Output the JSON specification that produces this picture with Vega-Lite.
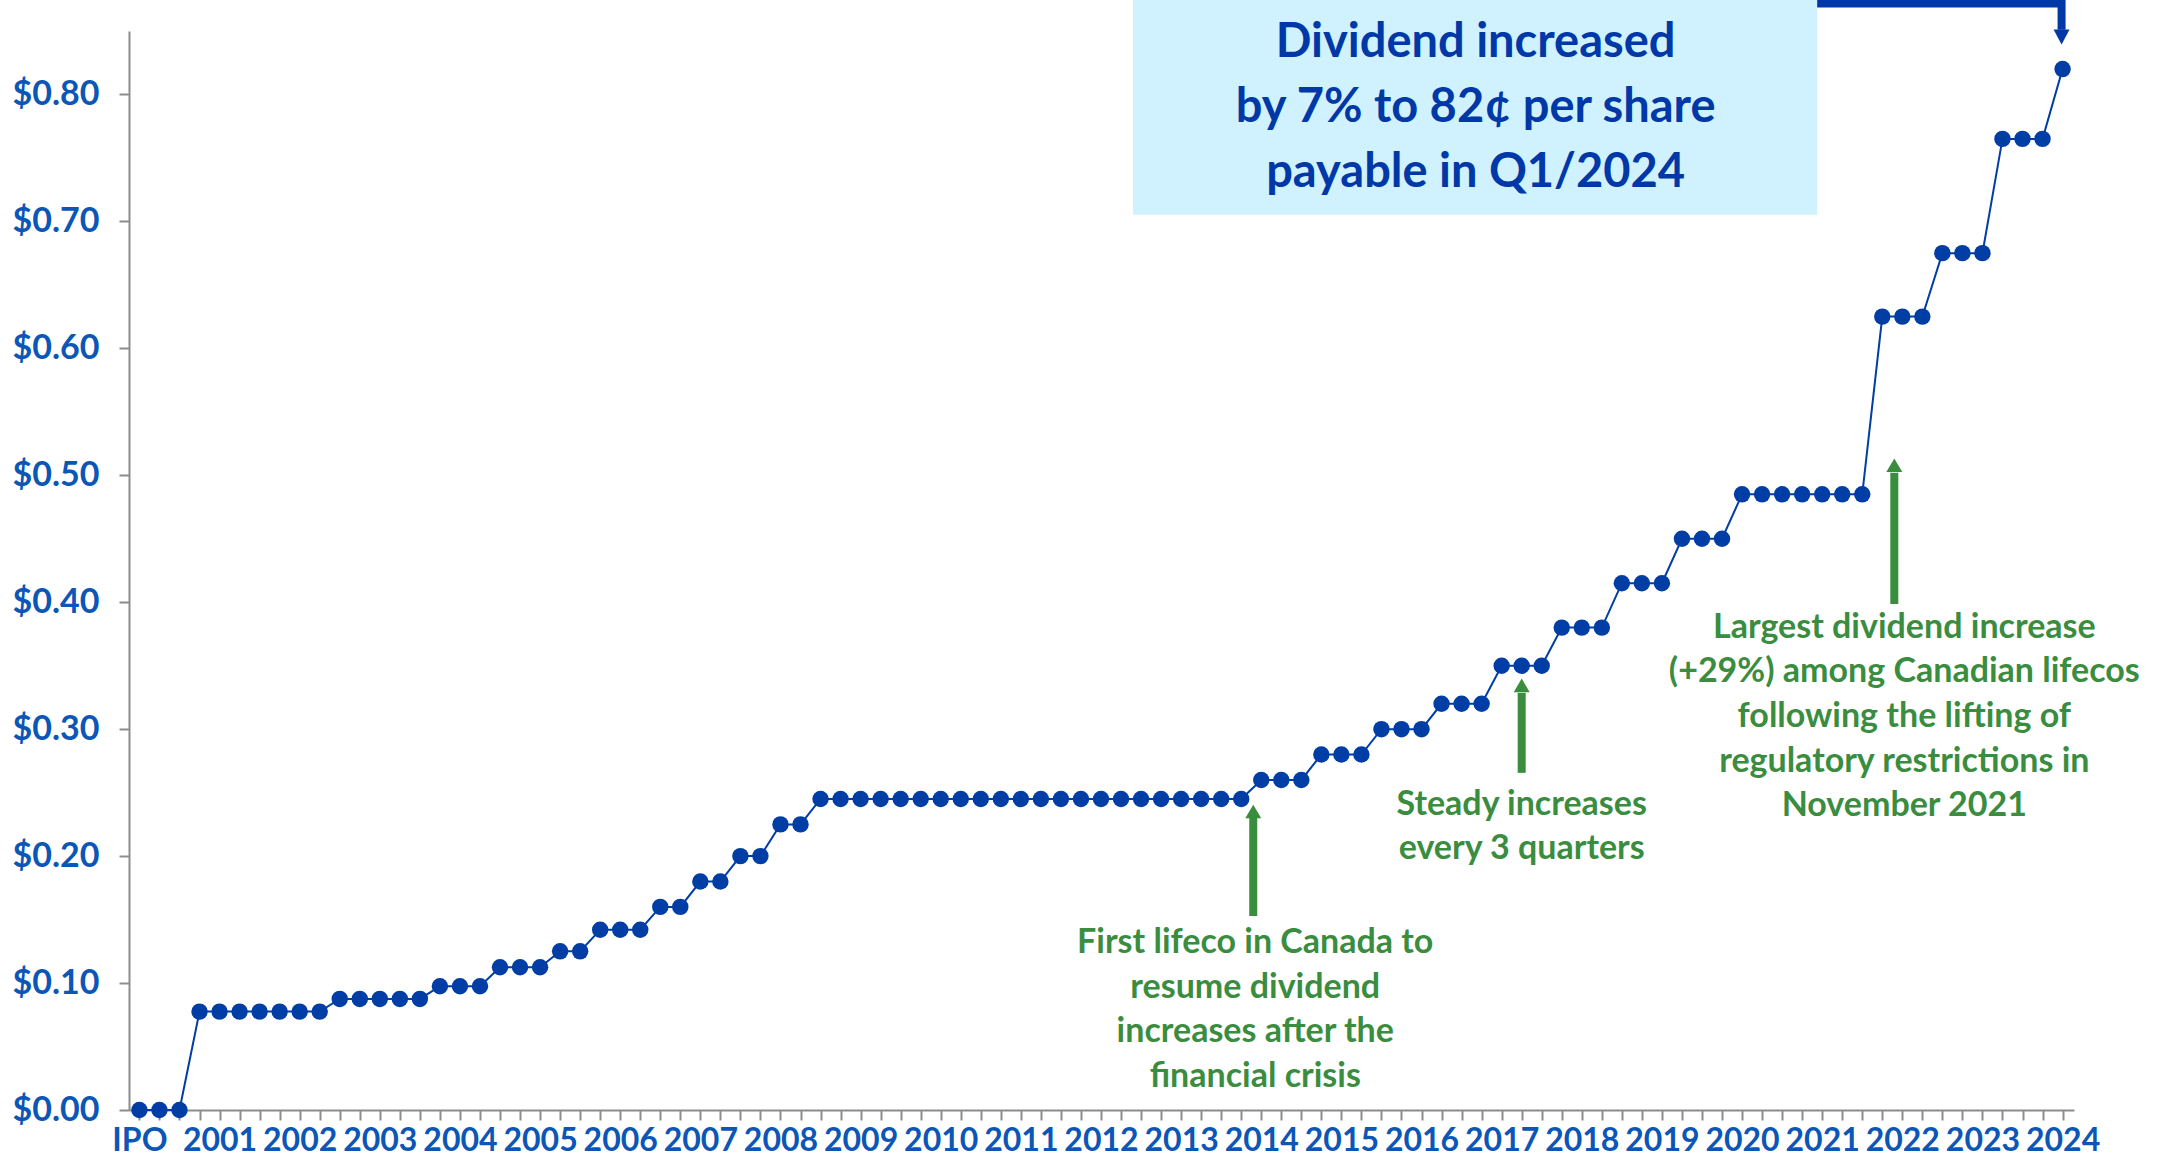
{
  "$schema": "https://vega.github.io/schema/vega-lite/v6.json",
  "width": 1945,
  "height": 1079,
  "autosize": "none",
  "padding": {"left": 129, "top": 31, "right": 103, "bottom": 52},
  "background": "white",
  "config": {"view": {"stroke": null}, "font": "Lato"},
  "datasets": {
    "series": [
      {"i":0,"v":0},{"i":1,"v":0},{"i":2,"v":0},
      {"i":3,"v":0.0775},{"i":4,"v":0.0775},{"i":5,"v":0.0775},{"i":6,"v":0.0775},{"i":7,"v":0.0775},{"i":8,"v":0.0775},{"i":9,"v":0.0775},
      {"i":10,"v":0.0875},{"i":11,"v":0.0875},{"i":12,"v":0.0875},{"i":13,"v":0.0875},{"i":14,"v":0.0875},
      {"i":15,"v":0.0975},{"i":16,"v":0.0975},{"i":17,"v":0.0975},
      {"i":18,"v":0.1125},{"i":19,"v":0.1125},{"i":20,"v":0.1125},
      {"i":21,"v":0.125},{"i":22,"v":0.125},
      {"i":23,"v":0.142},{"i":24,"v":0.142},{"i":25,"v":0.142},
      {"i":26,"v":0.16},{"i":27,"v":0.16},
      {"i":28,"v":0.18},{"i":29,"v":0.18},
      {"i":30,"v":0.20},{"i":31,"v":0.20},
      {"i":32,"v":0.225},{"i":33,"v":0.225},
      {"i":34,"v":0.245},{"i":35,"v":0.245},{"i":36,"v":0.245},{"i":37,"v":0.245},{"i":38,"v":0.245},{"i":39,"v":0.245},{"i":40,"v":0.245},{"i":41,"v":0.245},{"i":42,"v":0.245},{"i":43,"v":0.245},{"i":44,"v":0.245},{"i":45,"v":0.245},{"i":46,"v":0.245},{"i":47,"v":0.245},{"i":48,"v":0.245},{"i":49,"v":0.245},{"i":50,"v":0.245},{"i":51,"v":0.245},{"i":52,"v":0.245},{"i":53,"v":0.245},{"i":54,"v":0.245},{"i":55,"v":0.245},
      {"i":56,"v":0.26},{"i":57,"v":0.26},{"i":58,"v":0.26},
      {"i":59,"v":0.28},{"i":60,"v":0.28},{"i":61,"v":0.28},
      {"i":62,"v":0.30},{"i":63,"v":0.30},{"i":64,"v":0.30},
      {"i":65,"v":0.32},{"i":66,"v":0.32},{"i":67,"v":0.32},
      {"i":68,"v":0.35},{"i":69,"v":0.35},{"i":70,"v":0.35},
      {"i":71,"v":0.38},{"i":72,"v":0.38},{"i":73,"v":0.38},
      {"i":74,"v":0.415},{"i":75,"v":0.415},{"i":76,"v":0.415},
      {"i":77,"v":0.45},{"i":78,"v":0.45},{"i":79,"v":0.45},
      {"i":80,"v":0.485},{"i":81,"v":0.485},{"i":82,"v":0.485},{"i":83,"v":0.485},{"i":84,"v":0.485},{"i":85,"v":0.485},{"i":86,"v":0.485},
      {"i":87,"v":0.625},{"i":88,"v":0.625},{"i":89,"v":0.625},
      {"i":90,"v":0.675},{"i":91,"v":0.675},{"i":92,"v":0.675},
      {"i":93,"v":0.765},{"i":94,"v":0.765},{"i":95,"v":0.765},
      {"i":96,"v":0.82}
    ],
    "box": [{"x":49.6,"x2":83.75,"y":0.8747,"y2":0.7053}],
    "boxText": [{"x":66.7,"y":0.8298,"t":["Dividend increased","by 7% to 82¢ per share","payable in Q1/2024"]}],
    "blueArrow": [{"x":83.75,"y":0.8716,"o":1},{"x":95.95,"y":0.8716,"o":2},{"x":95.95,"y":0.851,"o":3}],
    "blueHead": [{"x":95.95,"y":0.8452}],
    "greenText": [
      {"x":55.7,"y":0.1237,"t":["First lifeco in Canada to","resume dividend","increases after the","financial crisis"]},
      {"x":69.0,"y":0.2325,"t":["Steady increases","every 3 quarters"]},
      {"x":88.1,"y":0.372,"t":["Largest dividend increase","(+29%) among Canadian lifecos","following the lifting of","regulatory restrictions in","November 2021"]}
    ],
    "greenShaft": [
      {"x":55.6,"y":0.2301,"y2":0.1529},
      {"x":69.0,"y":0.3286,"y2":0.2656},
      {"x":87.6,"y":0.502,"y2":0.3987}
    ],
    "greenHead": [
      {"x":55.6,"y":0.2352},
      {"x":69.0,"y":0.3345},
      {"x":87.6,"y":0.5079}
    ]
  },
  "layer": [
    {
      "data": {"name": "box"},
      "mark": {"type": "rect", "color": "#D0F1FE"},
      "encoding": {
        "x": {"field": "x", "type": "quantitative", "scale": {"domain": [-0.52, 96.57], "nice": false, "zero": false},
          "axis": {"title": null, "orient": "bottom", "tickCount": 97, "labelOverlap": false,
            "labelExpr": "datum.value == 0 ? 'IPO' : (datum.value % 4 == 0 ? '' + (2000 + datum.value / 4) : '')",
            "labelFont": "Lato", "labelFontWeight": "bold", "labelFontSize": 32, "labelColor": "#0B56B6",
            "labelPadding": 5, "labelBaseline": "top",
            "domainColor": "#8C8C8C", "domainWidth": 2, "tickColor": "#8C8C8C", "tickWidth": 2, "tickSize": 10, "grid": false}},
        "x2": {"field": "x2"},
        "y": {"field": "y", "type": "quantitative", "scale": {"domain": [0, 0.85], "nice": false, "zero": false},
          "axis": {"title": null, "values": [0, 0.1, 0.2, 0.3, 0.4, 0.5, 0.6, 0.7, 0.8], "format": "$.2f",
            "labelFont": "Lato", "labelFontWeight": "bold", "labelFontSize": 34, "labelColor": "#0B56B6",
            "labelPadding": 20, "domainColor": "#8C8C8C", "domainWidth": 2, "tickColor": "#8C8C8C", "tickWidth": 2, "tickSize": 10, "grid": false}},
        "y2": {"field": "y2"}
      }
    },
    {
      "data": {"name": "boxText"},
      "mark": {"type": "text", "font": "Lato", "fontWeight": "bold", "fontSize": 47, "lineHeight": 65, "align": "center", "baseline": "alphabetic", "color": "#0038A8"},
      "encoding": {
        "x": {"field": "x", "type": "quantitative"},
        "y": {"field": "y", "type": "quantitative"},
        "text": {"field": "t"}
      }
    },
    {
      "data": {"name": "blueArrow"},
      "mark": {"type": "line", "color": "#0038A8", "strokeWidth": 8, "strokeJoin": "miter", "strokeCap": "butt"},
      "encoding": {
        "x": {"field": "x", "type": "quantitative"},
        "y": {"field": "y", "type": "quantitative"},
        "order": {"field": "o", "type": "quantitative"}
      }
    },
    {
      "data": {"name": "blueHead"},
      "mark": {"type": "point", "shape": "M-1,-0.94L1,-0.94L0,0.94Z", "size": 256, "filled": true, "opacity": 1, "color": "#0038A8"},
      "encoding": {
        "x": {"field": "x", "type": "quantitative"},
        "y": {"field": "y", "type": "quantitative"}
      }
    },
    {
      "data": {"name": "greenShaft"},
      "mark": {"type": "rule", "color": "#388E3C", "strokeWidth": 8},
      "encoding": {
        "x": {"field": "x", "type": "quantitative"},
        "y": {"field": "y", "type": "quantitative"},
        "y2": {"field": "y2"}
      }
    },
    {
      "data": {"name": "greenHead"},
      "mark": {"type": "point", "shape": "M0,-0.85L1,0.85L-1,0.85Z", "size": 256, "filled": true, "opacity": 1, "color": "#388E3C"},
      "encoding": {
        "x": {"field": "x", "type": "quantitative"},
        "y": {"field": "y", "type": "quantitative"}
      }
    },
    {
      "data": {"name": "greenText"},
      "mark": {"type": "text", "font": "Lato", "fontWeight": "bold", "fontSize": 34, "lineHeight": 44.6, "align": "center", "baseline": "alphabetic", "color": "#3A8D3F"},
      "encoding": {
        "x": {"field": "x", "type": "quantitative"},
        "y": {"field": "y", "type": "quantitative"},
        "text": {"field": "t"}
      }
    },
    {
      "data": {"name": "series"},
      "mark": {"type": "line", "color": "#003DA5", "strokeWidth": 2},
      "encoding": {
        "x": {"field": "i", "type": "quantitative"},
        "y": {"field": "v", "type": "quantitative"}
      }
    },
    {
      "data": {"name": "series"},
      "mark": {"type": "point", "shape": "circle", "size": 270, "filled": true, "opacity": 1, "color": "#003DA5"},
      "encoding": {
        "x": {"field": "i", "type": "quantitative"},
        "y": {"field": "v", "type": "quantitative"}
      }
    }
  ]
}
